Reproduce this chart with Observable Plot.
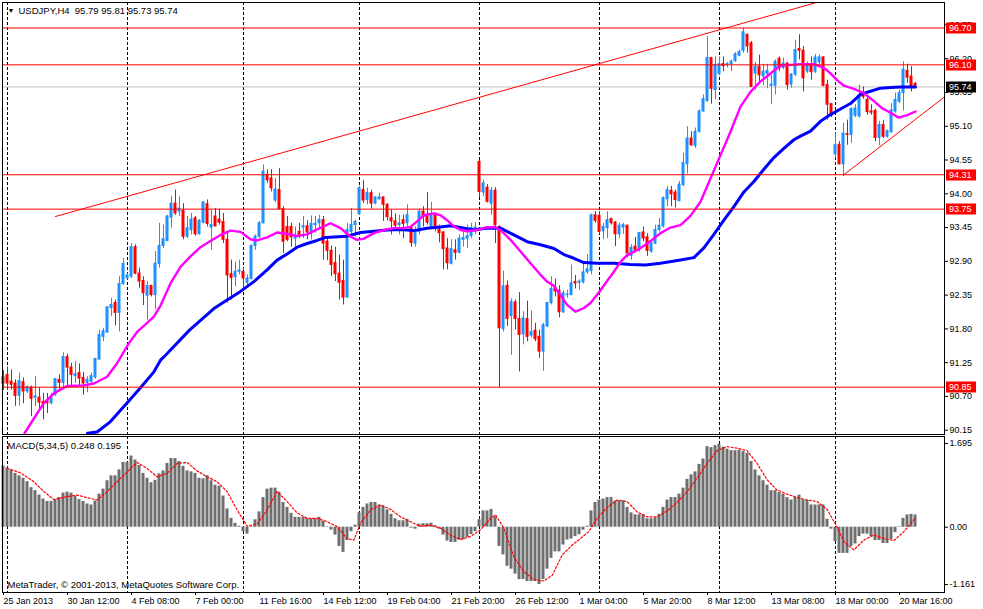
<!DOCTYPE html>
<html><head><meta charset="utf-8">
<script src="https://cdn.jsdelivr.net/npm/d3@7"></script>
<script src="https://cdn.jsdelivr.net/npm/@observablehq/plot@0.6"></script>
<style>
html,body{margin:0;padding:0;background:#fff;overflow:hidden;}
#chart{position:relative;width:983px;height:609px;overflow:hidden;background:#fff;}
#chart svg{position:absolute;left:0;}
</style></head><body><div id="chart"></div>
<script>
// ---- price candles (H4 bars, index 0 = 25 Jan 2013 20:00) ----
const open = [
91.01,91.05,90.94,90.91,90.71,90.93,90.78,90.84,90.68,90.68,
90.61,90.62,90.59,90.72,90.97,90.92,91.34,91.17,91.03,91.08,
91.00,90.92,90.94,91.01,91.30,91.67,91.74,92.14,92.22,92.06,
92.53,92.62,92.65,93.13,92.70,92.58,92.34,92.50,92.35,92.86,
93.15,93.23,93.61,93.84,93.71,93.72,93.30,93.41,93.60,93.34,
93.53,93.83,93.45,93.63,93.58,93.54,93.25,92.69,92.64,92.73,
92.73,92.55,92.61,93.15,93.30,93.52,94.31,94.25,93.89,94.06,
93.75,93.46,93.46,93.27,93.38,93.45,93.47,93.38,93.49,93.52,
93.57,93.22,93.07,92.87,92.70,92.58,92.31,93.38,93.49,93.67,
94.06,93.90,94.01,93.84,93.91,93.94,93.82,93.60,93.55,93.49,
93.57,93.52,93.44,93.19,93.38,93.71,93.63,93.46,93.67,93.41,
93.37,93.11,92.86,93.08,93.04,93.25,93.27,93.31,93.43,94.52,
94.02,94.10,93.84,94.05,93.46,91.80,92.50,92.01,92.23,91.96,
91.71,91.96,91.69,91.77,91.67,91.43,91.84,92.22,92.46,92.42,
92.07,92.35,92.35,92.56,92.55,92.56,92.72,92.74,93.65,93.64,
93.39,93.44,93.59,93.53,93.34,93.45,93.48,92.99,93.14,93.11,
93.37,93.29,93.06,93.19,93.41,93.47,93.91,94.05,94.02,93.88,
94.14,94.48,94.90,94.78,95.01,95.34,95.51,96.21,95.69,95.95,
96.11,96.10,96.11,96.16,96.25,96.33,96.59,96.45,95.96,96.07,
95.91,95.95,95.76,95.76,96.20,96.05,96.12,95.78,95.94,96.36,
96.33,95.99,96.11,95.99,96.14,96.22,95.77,95.46,94.64,94.80,
94.48,94.97,94.96,95.27,95.26,95.60,95.53,95.34,95.35,94.91,
95.12,94.93,95.00,95.34,95.50,95.64,96.00,95.91,95.79];
const high = [
91.12,91.18,91.13,90.97,91.08,91.00,90.87,90.87,91.02,90.84,
90.75,90.75,90.75,90.99,91.05,91.41,91.39,91.24,91.27,91.23,
91.09,91.02,91.08,91.32,91.78,91.81,92.16,92.30,92.27,92.65,
92.95,92.70,93.19,93.17,92.79,92.65,92.57,92.51,93.06,93.52,
93.49,93.65,93.96,94.06,93.95,93.84,93.63,93.68,93.63,93.58,
93.87,93.90,93.74,93.76,93.75,93.68,93.38,92.92,92.89,92.92,
92.79,92.68,93.17,93.33,93.55,94.47,94.39,94.39,94.25,94.41,
93.79,93.63,93.52,93.46,93.52,93.63,93.56,93.64,93.63,93.65,
93.63,93.27,93.15,93.13,93.00,92.92,93.52,93.76,93.57,94.12,
94.22,94.09,94.06,93.95,94.01,93.95,93.84,93.74,93.67,93.65,
93.65,93.82,93.46,93.46,93.75,93.79,94.02,93.86,93.69,93.49,
93.38,93.27,93.25,93.25,93.33,93.38,93.49,93.52,93.53,94.55,
94.22,94.15,94.10,94.10,93.48,92.74,92.58,92.29,92.27,92.39,
92.08,92.25,92.09,91.89,91.78,91.89,92.23,92.65,92.61,92.50,
92.42,92.43,92.84,92.67,92.60,92.89,93.01,93.67,93.71,93.71,
93.52,93.71,93.60,93.55,93.52,93.52,93.49,93.17,93.29,93.37,
93.46,93.35,93.25,93.49,93.60,93.95,94.12,94.12,94.06,94.20,
94.66,95.09,95.01,95.07,95.37,95.61,96.56,96.22,96.23,96.23,
96.23,96.14,96.18,96.30,96.34,96.70,96.60,96.48,96.14,96.26,
96.11,96.11,95.93,96.18,96.23,96.21,96.14,95.96,96.50,96.59,
96.40,96.15,96.23,96.27,96.26,96.23,95.85,95.47,94.99,94.85,
95.15,95.20,95.40,95.45,95.77,95.74,95.58,95.45,95.38,95.18,
95.19,95.04,95.47,95.64,95.69,96.15,96.11,96.07,95.81];
const low = [
90.80,90.80,90.80,90.54,90.54,90.58,90.75,90.37,90.53,90.48,
90.32,90.42,90.56,90.70,90.80,90.83,90.86,90.86,90.91,90.86,
90.72,90.76,90.91,90.98,91.29,91.59,91.73,92.00,91.85,91.75,
92.51,92.60,92.62,92.68,92.46,92.18,91.94,92.32,92.11,92.79,
93.11,93.22,93.44,93.65,93.63,93.25,93.27,93.33,93.31,93.33,
93.51,93.46,93.08,93.46,93.49,93.19,92.22,92.27,92.49,92.68,
92.43,92.46,92.60,93.08,93.27,93.51,94.17,94.03,93.86,93.74,
93.03,93.22,93.13,93.11,93.27,93.27,93.25,93.25,93.36,93.41,
92.92,92.91,92.65,92.57,92.27,92.19,92.30,93.30,93.30,93.65,
93.84,93.82,93.75,93.82,93.90,93.55,93.56,93.33,93.44,93.33,
93.27,93.46,93.13,93.13,93.33,93.46,93.49,93.44,93.38,93.20,
92.76,92.76,92.84,92.92,93.02,93.13,93.11,93.27,93.33,93.94,
93.95,93.85,93.65,93.19,90.84,91.75,91.84,91.37,91.78,91.10,
91.54,91.59,91.65,91.59,91.32,91.11,91.82,92.19,92.32,91.98,
92.05,92.30,92.34,92.45,92.43,92.53,92.69,92.68,93.52,93.34,
93.25,93.27,93.49,93.14,93.27,93.34,92.96,92.92,93.05,93.05,
93.22,92.98,93.03,93.17,93.38,93.44,93.79,93.79,93.77,93.87,
94.12,94.32,94.77,94.74,94.99,95.33,95.49,95.46,95.53,95.92,
95.99,96.05,95.99,96.14,96.23,96.29,96.29,95.74,95.69,95.80,
95.76,95.71,95.45,95.61,95.99,96.02,95.69,95.72,95.91,96.18,
95.66,95.96,95.85,95.96,96.10,95.74,95.20,95.24,94.58,94.47,
94.28,94.79,94.82,95.24,95.23,95.54,95.28,95.28,94.85,94.78,
94.90,94.91,94.99,95.31,95.47,95.35,95.80,95.66,95.72];
const close = [
90.91,90.91,90.89,90.71,90.95,90.78,90.85,90.66,90.70,90.60,
90.58,90.59,90.68,90.98,90.92,91.34,91.17,91.05,91.06,90.99,
90.91,90.97,91.03,91.31,91.70,91.76,92.15,92.19,92.06,92.53,
92.86,92.67,93.13,92.70,92.57,92.38,92.50,92.35,92.86,93.15,
93.26,93.63,93.84,93.68,93.76,93.30,93.44,93.58,93.34,93.56,
93.86,93.51,93.49,93.47,93.53,93.25,92.67,92.63,92.73,92.75,
92.62,92.62,93.15,93.30,93.52,94.36,94.22,94.09,94.07,93.75,
93.22,93.25,93.29,93.33,93.31,93.47,93.37,93.51,93.51,93.57,
93.19,93.07,92.84,92.69,92.55,92.31,93.41,93.49,93.54,94.09,
93.89,94.01,93.84,93.94,93.94,93.82,93.62,93.55,93.48,93.52,
93.51,93.65,93.20,93.38,93.71,93.62,93.53,93.65,93.44,93.36,
93.10,92.87,93.10,93.04,93.27,93.28,93.31,93.44,93.45,94.03,
94.17,93.87,94.05,93.49,91.81,92.49,91.96,92.24,91.96,91.70,
91.97,91.67,91.75,91.63,91.43,91.86,92.22,92.45,92.41,92.07,
92.38,92.36,92.54,92.54,92.57,92.72,92.77,93.65,93.56,93.38,
93.46,93.57,93.52,93.34,93.48,93.49,93.03,93.12,93.08,93.36,
93.27,93.07,93.19,93.41,93.48,93.93,94.06,93.99,93.90,94.15,
94.50,94.90,94.79,95.01,95.34,95.54,96.21,95.71,96.10,96.11,
96.08,96.11,96.15,96.27,96.31,96.63,96.40,95.74,96.07,95.93,
95.99,96.00,95.78,96.15,96.04,96.12,95.77,95.94,96.34,96.33,
95.88,96.11,95.98,96.22,96.22,95.76,95.45,95.27,94.79,94.48,
94.98,94.96,95.38,95.39,95.60,95.58,95.33,95.32,94.91,95.12,
94.93,95.02,95.36,95.53,95.64,96.02,95.89,95.75,95.74];

// ---- moving averages (bar index, price) ----
const magentaIdx = [5.25,7.6,10.1,12.6,15.9,20.1,22.6,25.9,28.4,30.1,31.3,33.4,35.1,37.6,39.25,41.75,44.25,46.75,49.25,51.75,54.25,56.75,59.25,61.75,63.4,65.9,68.4,70.9,73.4,75.9,78.4,81.75,84.25,86.75,88.4,90.1,92.6,95.1,97.6,100.1,101.75,103.4,105.1,107.6,109.25,110.9,112.6,114.25,115.9,118.4,120.5,122.6,124.25,126.75,129.25,131.75,134.25,135.9,137.6,139.25,140.9,143,145.1,146.75,149.25,150.9,152.6,154.25,155.9,158.4,160.5,161.75,164.25,166.75,169.25,171.75,174.25,176.75,179.25,181.75,184.25,186.75,189.25,191.75,194.25,196.75,199.25,202.6,205.1,206.75,208.4,210.1,212.6,215.1,217.6,219.7,221.75,223.8,225.9,228];
const magentaVal = [90.10,90.34,90.59,90.75,90.87,90.88,90.91,91.02,91.24,91.43,91.56,91.75,91.85,92.00,92.18,92.54,92.81,92.98,93.13,93.23,93.33,93.40,93.38,93.26,93.24,93.29,93.37,93.35,93.31,93.34,93.42,93.52,93.44,93.30,93.25,93.27,93.36,93.41,93.44,93.44,93.46,93.55,93.65,93.68,93.65,93.57,93.47,93.41,93.39,93.41,93.45,93.46,93.41,93.25,93.06,92.87,92.68,92.57,92.50,92.35,92.19,92.08,92.14,92.22,92.43,92.58,92.73,92.89,93.00,93.08,93.17,93.23,93.36,93.45,93.49,93.64,93.87,94.25,94.63,95.01,95.42,95.66,95.83,95.96,96.09,96.10,96.11,96.11,96.05,95.96,95.85,95.76,95.71,95.64,95.51,95.39,95.32,95.24,95.28,95.34];
const blueIdx = [21,23.4,26.75,31.1,34.25,37.6,39.25,40.5,46.5,52.6,55.9,59.25,62.6,65.9,68.4,70.9,73.4,75.9,78.4,80.5,85.9,89.25,92.6,95.9,99.25,102.6,105.9,109.25,111.75,114.25,117.6,120.5,124.25,127.6,130.9,134.25,137.6,140.1,142.6,145.1,148.4,152.6,156.75,160.5,164.25,169.25,172.6,175.1,177.6,180.1,182.6,185.1,187.6,190.1,192.6,195.1,197.6,199.25,201.75,204.25,206.75,209.25,211.75,214.25,216.75,219.25,221.75,224.25,228];
const blueVal = [90.10,90.12,90.29,90.61,90.84,91.10,91.29,91.37,91.78,92.13,92.27,92.41,92.57,92.76,92.92,93.02,93.13,93.19,93.24,93.29,93.31,93.37,93.39,93.41,93.42,93.40,93.44,93.46,93.48,93.45,93.41,93.44,93.44,93.33,93.22,93.17,93.11,93.01,92.95,92.88,92.87,92.87,92.85,92.84,92.87,92.92,92.96,93.12,93.34,93.57,93.79,94.03,94.20,94.40,94.59,94.74,94.88,94.94,95.02,95.18,95.29,95.38,95.47,95.62,95.67,95.72,95.73,95.74,95.74];

// ---- MACD(5,34,5) histogram (one value per bar) and signal line ----
const macdHist = [
1.24,1.20,1.16,1.09,1.04,0.99,0.92,0.80,0.74,0.65,
0.57,0.52,0.52,0.56,0.60,0.69,0.71,0.69,0.63,0.56,
0.52,0.47,0.45,0.53,0.67,0.77,0.94,1.04,1.04,1.16,
1.31,1.31,1.44,1.36,1.25,1.09,0.99,0.90,0.95,1.08,
1.14,1.29,1.39,1.39,1.33,1.23,1.14,1.12,1.09,0.99,
0.98,1.04,0.94,0.85,0.83,0.63,0.37,0.18,0.08,0.02,
-0.09,-0.14,0.01,0.15,0.31,0.60,0.77,0.79,0.79,0.71,
0.50,0.40,0.28,0.20,0.20,0.20,0.17,0.17,0.17,0.20,
0.12,0.01,-0.06,-0.16,-0.39,-0.51,-0.27,-0.09,0.04,0.29,
0.40,0.47,0.50,0.50,0.45,0.43,0.35,0.26,0.17,0.13,
0.13,0.16,-0.02,-0.04,0.06,0.07,0.07,0.08,0.03,-0.04,
-0.16,-0.28,-0.31,-0.31,-0.26,-0.25,-0.21,-0.15,-0.09,0.15,
0.33,0.33,0.36,0.21,-0.39,-0.56,-0.79,-0.85,-0.95,-1.06,
-1.06,-1.10,-1.10,-1.10,-1.16,-1.06,-0.85,-0.63,-0.50,-0.50,
-0.36,-0.26,-0.24,-0.19,-0.15,-0.06,0.02,0.33,0.50,0.55,
0.57,0.60,0.60,0.53,0.53,0.53,0.40,0.29,0.25,0.25,
0.25,0.17,0.17,0.19,0.26,0.40,0.55,0.60,0.60,0.67,
0.79,0.97,1.06,1.12,1.27,1.38,1.63,1.61,1.65,1.68,
1.62,1.58,1.55,1.55,1.56,1.53,1.50,1.33,1.16,1.04,
0.94,0.85,0.74,0.74,0.70,0.67,0.60,0.55,0.60,0.65,
0.55,0.54,0.45,0.45,0.45,0.45,0.16,-0.04,-0.29,-0.53,
-0.53,-0.53,-0.39,-0.34,-0.19,-0.14,-0.14,-0.19,-0.27,-0.27,
-0.33,-0.33,-0.25,-0.11,0.01,0.18,0.25,0.26,0.248];
const signalIdx = [0.9,4.25,7.6,10.1,12.6,15.9,18.4,20.9,23.4,25.9,28.4,30.9,33.4,35.9,38.4,40.9,43.4,45.9,48.4,50.9,53.4,55.9,58.4,60.9,63.4,65.9,68.4,70.9,73.4,75.9,78.4,80.9,83.4,85.9,87.6,89.25,91.75,94.25,96.75,99.25,101.75,104.25,106.75,109.25,111.75,114.25,116.75,119.25,121.75,123,125.1,127.6,130.1,132.6,135.1,137.2,139.7,142.2,144.25,146.3,148.4,150.9,153.4,155.9,158.4,160.9,163.4,165.9,168.4,170.9,173.4,175.9,178.4,180.9,183.4,185.9,188.4,190.9,193.4,195.9,198.4,200.9,203.4,205.9,208,210.1,212.6,215.1,217.6,220.1,222.6,225.1,227.6,228];
const signalVal = [1.19,1.10,0.92,0.72,0.56,0.62,0.65,0.60,0.55,0.72,0.92,1.12,1.31,1.19,1.02,1.09,1.29,1.31,1.14,1.02,0.92,0.72,0.35,0.02,0.06,0.35,0.72,0.52,0.29,0.18,0.18,0.11,0.01,-0.23,-0.26,0.08,0.35,0.45,0.36,0.21,0.11,0.02,0.04,-0.02,-0.16,-0.25,-0.19,-0.05,0.18,0.25,-0.02,-0.60,-0.90,-1.06,-1.09,-0.97,-0.56,-0.36,-0.23,-0.09,0.18,0.40,0.55,0.52,0.31,0.21,0.21,0.33,0.50,0.72,0.99,1.29,1.55,1.63,1.60,1.55,1.29,0.96,0.75,0.67,0.60,0.55,0.52,0.36,0.06,-0.29,-0.46,-0.26,-0.16,-0.23,-0.27,-0.09,0.15,0.195];

// ---- objects, levels, ticks, labels ----
const trendUp = [[13, 93.63], [203, 97.11]];
const trendSupport = [[210.1, 94.31], [235, 95.565]];
const levelPrices = [96.70, 96.10, 94.31, 93.75, 90.85];
const bidPrice = 95.74;
const boxPrices = [96.70, 96.10, 95.74, 94.31, 93.75, 90.85];
const boxColors = ["#ff0000", "#ff0000", "#000000", "#ff0000", "#ff0000", "#ff0000"];
const priceTicks = [90.15, 90.70, 91.25, 91.80, 92.35, 92.90, 93.45, 94.00, 94.55, 95.10, 95.65, 96.20, 96.75];
const macdTicks = [1.695, 0, -1.161];
const weekIdx = [1, 31, 60, 89, 119, 149, 179, 208];
const dateIdx = [0, 16, 32, 48, 64, 80, 96, 112, 128, 144, 160, 176, 192, 208, 224];
const dateLabels = ["25 Jan 2013", "30 Jan 12:00", "4 Feb 08:00", "7 Feb 00:00", "11 Feb 16:00", "14 Feb 12:00", "19 Feb 04:00", "21 Feb 20:00", "26 Feb 12:00", "1 Mar 04:00", "5 Mar 20:00", "8 Mar 12:00", "13 Mar 08:00", "18 Mar 00:00", "20 Mar 16:00"];
const headerText = "USDJPY,H4\u00a0 95.79 95.81 95.73 95.74";
const macdTitle = "MACD(5,34,5) 0.248 0.195";
const copyright = "MetaTrader, \u00a9 2001-2013, MetaQuotes Software Corp.";

// ---- build ----
const FONT = "'Liberation Sans', Arial, sans-serif";
const BULL = "#1e90ff", BEAR = "#ff0000";
const bars = open.map((o, i) => ({i, o, h: high[i], l: low[i], c: close[i]}));
const upBars = bars.filter(d => d.c >= d.o);
const dnBars = bars.filter(d => d.c < d.o);
const mag = magentaIdx.map((x, k) => ({i: x, v: magentaVal[k]}));
const ema = blueIdx.map((x, k) => ({i: x, v: blueVal[k]}));
const hist = macdHist.map((v, i) => ({i, v}));
const sig = signalIdx.map((x, k) => ({i: x, v: signalVal[k]}));
const baseStyle = {fontFamily: FONT, fontSize: "9px", background: "transparent", color: "#000", overflow: "visible"};
const xDomain = [-0.25, 235.25];

const main = Plot.plot({
  width: 983, height: 435,
  marginLeft: 2, marginRight: 39, marginTop: 2, marginBottom: 1,
  x: {domain: xDomain, axis: null, label: null},
  y: {domain: [90.0797, 97.1153], axis: null, label: null},
  style: baseStyle,
  marks: [
    Plot.ruleX(weekIdx, {x: d => d, stroke: "#000", strokeDasharray: "3,2"}),
    Plot.ruleY([bidPrice], {y: d => d, stroke: "#c0c0c0"}),
    Plot.ruleX(upBars, {x: "i", y1: "l", y2: "h", stroke: BULL}),
    Plot.ruleX(dnBars, {x: "i", y1: "l", y2: "h", stroke: BEAR}),
    Plot.rect(upBars, {x1: d => d.i - 0.25, x2: d => d.i + 0.25, y1: "o", y2: "c", fill: BULL, stroke: BULL, strokeWidth: 1}),
    Plot.rect(dnBars, {x1: d => d.i - 0.25, x2: d => d.i + 0.25, y1: "o", y2: "c", fill: BEAR, stroke: BEAR, strokeWidth: 1}),
    Plot.line(ema, {x: "i", y: "v", stroke: "#0000ff", strokeWidth: 3, clip: true}),
    Plot.line(mag, {x: "i", y: "v", stroke: "#ff00ff", strokeWidth: 2.4, clip: true}),
    Plot.ruleY(levelPrices, {y: d => d, stroke: "#ff0000"}),
    Plot.line(trendUp, {x: d => d[0], y: d => d[1], stroke: "#ff0000", strokeWidth: 1, clip: true}),
    Plot.line(trendSupport, {x: d => d[0], y: d => d[1], stroke: "#ff0000", strokeWidth: 1, clip: true}),
    Plot.frame({stroke: "#000"}),
    Plot.axisY({anchor: "right", ticks: priceTicks, tickFormat: d => d.toFixed(2), tickSize: 3, tickPadding: 2, fontSize: 9, label: null}),
    Plot.text(["\u25bc"], {frameAnchor: "top-left", dx: 5, dy: 6, fontSize: 7, lineAnchor: "top", textAnchor: "start"}),
    Plot.text([headerText], {frameAnchor: "top-left", dx: 16, dy: 5, fontSize: 9.5, lineAnchor: "top", textAnchor: "start"})
  ]
});

const macd = Plot.plot({
  width: 983, height: 173,
  marginLeft: 2, marginRight: 39, marginTop: 0, marginBottom: 17,
  x: {domain: xDomain, label: null},
  y: {domain: [-1.3219, 1.836], label: null},
  style: baseStyle,
  marks: [
    Plot.ruleX(weekIdx, {x: d => d, stroke: "#000", strokeDasharray: "3,2"}),
    Plot.rect(hist, {x1: d => d.i - 0.375, x2: d => d.i + 0.375, y1: 0, y2: "v", fill: "#6e6e6e"}),
    Plot.line(sig, {x: "i", y: "v", stroke: "#ff0000", strokeWidth: 1.2, strokeDasharray: "2,2"}),
    Plot.frame({stroke: "#000"}),
    Plot.axisY({anchor: "right", ticks: macdTicks, tickFormat: d => d === 0 ? "0.00" : d.toFixed(3), tickSize: 3, tickPadding: 2, fontSize: 9, label: null}),
    Plot.axisX({anchor: "bottom", ticks: dateIdx, tickFormat: d => dateLabels[dateIdx.indexOf(d)], textAnchor: "start", tickSize: 3, tickPadding: 2, fontSize: 9, label: null}),
    Plot.text([macdTitle], {frameAnchor: "top-left", dx: 5, dy: 6, fontSize: 9.5, lineAnchor: "top", textAnchor: "start"}),
    Plot.text([copyright], {frameAnchor: "bottom-left", dx: 5, dy: -5, fontSize: 9.5, lineAnchor: "bottom", textAnchor: "start"})
  ]
});

const chart = document.getElementById("chart");
main.style.top = "0px";
macd.style.top = "436px";
chart.appendChild(main);
chart.appendChild(macd);

// price boxes on the right scale
const ys = main.scale("y");
const gBox = d3.select(main).append("g")
  .attr("font-family", FONT).attr("font-size", 9).attr("text-anchor", "start");
boxPrices.forEach((p, k) => {
  const y = ys.apply(p) + 0.5;
  gBox.append("rect").attr("x", 946).attr("y", Math.round(y) - 5.5).attr("width", 30).attr("height", 11).attr("fill", boxColors[k]);
  gBox.append("text").attr("x", 949).attr("y", y).attr("dy", "0.35em").attr("text-anchor", "start").attr("fill", "#fff").text(p.toFixed(2));
});
</script>
</body></html>
